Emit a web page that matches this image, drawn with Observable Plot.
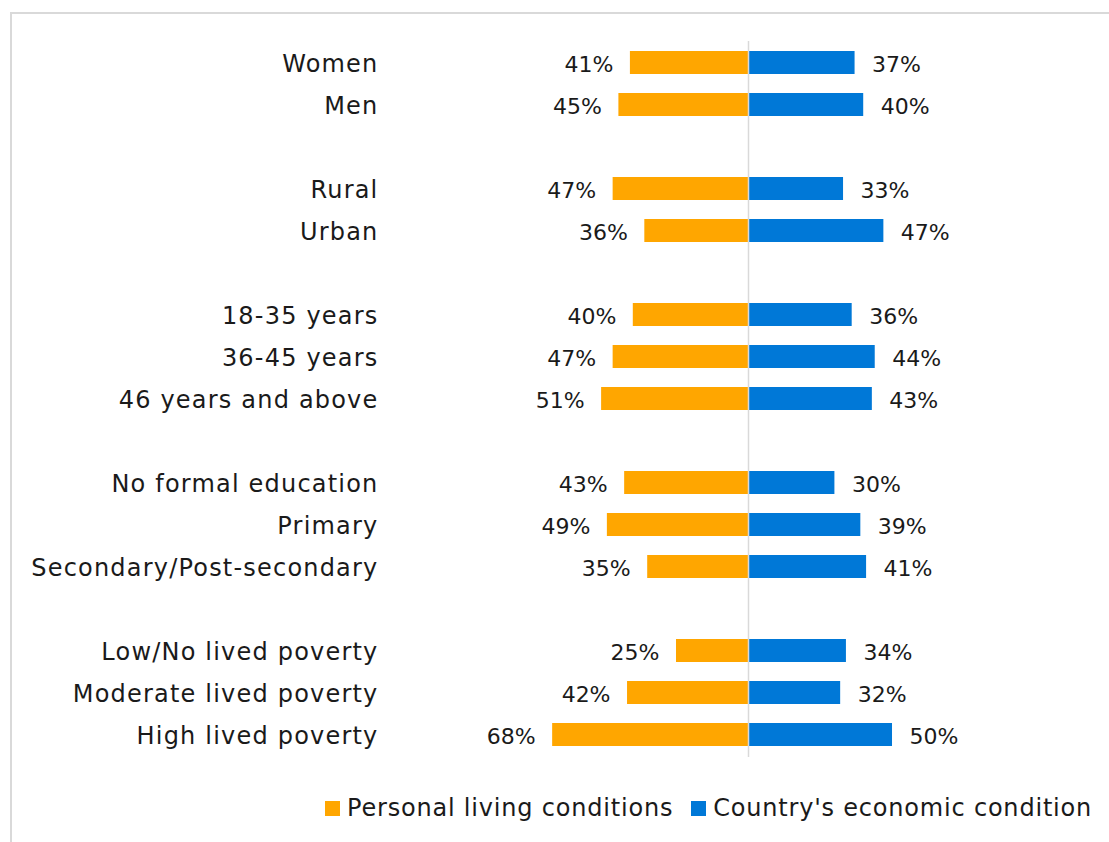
<!DOCTYPE html>
<html>
<head>
<meta charset="utf-8">
<script src="https://cdn.jsdelivr.net/npm/d3@7"></script>
<script src="https://cdn.jsdelivr.net/npm/@observablehq/plot@0.6"></script>
<style>
  html, body { margin: 0; padding: 0; background: #fff; }
  body { width: 1109px; height: 842px; overflow: hidden; position: relative; font-family: "DejaVu Sans", sans-serif; }
  #frame { position: absolute; left: 10px; top: 12px; width: 1120px; height: 860px; border-left: 2px solid #d9d9d9; border-top: 2px solid #d9d9d9; }
  #chart { position: absolute; left: 0; top: 0; }
  #legend { position: absolute; left: 325px; top: 794px; display: flex; align-items: center; font-size: 24px; color: #1a1a1a; white-space: nowrap; letter-spacing: 0.8px; }
  .sw { display: inline-block; width: 15px; height: 15px; margin-right: 7px; }
  .item { display: flex; align-items: center; margin-right: 18px; }
</style>
</head>
<body>
<div id="frame"></div>
<div id="chart"></div>
<div id="legend"></div>
<script>
const categories = ["Women", "Men", "Rural", "Urban", "18-35 years", "36-45 years", "46 years and above",
  "No formal education", "Primary", "Secondary/Post-secondary",
  "Low/No lived poverty", "Moderate lived poverty", "High lived poverty"];
const groups = ["Gender", "Gender", "Location", "Location", "Age", "Age", "Age",
  "Education", "Education", "Education", "Poverty", "Poverty", "Poverty"];
const personal = [41, 45, 47, 36, 40, 47, 51, 43, 49, 35, 25, 42, 68];
const country = [37, 40, 33, 47, 36, 44, 43, 30, 39, 41, 34, 32, 50];
const seriesNames = ["Personal living conditions", "Country's economic condition"];
const seriesColors = ["#FFA600", "#0078D7"];

// y domain with spacer rows between groups
const domain = [];
categories.forEach((c, i) => {
  if (i > 0 && groups[i] !== groups[i - 1]) domain.push("__gap" + i);
  domain.push(c);
});

const rows = [];
categories.forEach((c, i) => {
  rows.push({category: c, series: seriesNames[0], value: -personal[i], label: personal[i] + "%"});
  rows.push({category: c, series: seriesNames[1], value: country[i], label: country[i] + "%"});
});
const left = rows.filter(d => d.series === seriesNames[0]);
const right = rows.filter(d => d.series === seriesNames[1]);

const chart = Plot.plot({
  width: 1109,
  height: 780,
  marginLeft: 390,
  marginRight: 3,
  marginTop: 41,
  marginBottom: 23,
  style: {fontFamily: "DejaVu Sans, sans-serif", fontSize: "22px", color: "#1a1a1a", background: "transparent"},
  x: {domain: [-124.3, 124.3], axis: null},
  y: {domain, paddingInner: 0.45, paddingOuter: 0.225, label: null},
  color: {domain: seriesNames, range: seriesColors},
  marks: [
    Plot.axisY({tickSize: 0, tickPadding: 12, fontSize: 24, dy: 1.5, label: null,
      tickFormat: d => d.startsWith("__gap") ? "" : d}),
    Plot.barX(rows, {x: "value", y: "category", fill: "series"}),
    Plot.ruleX([0], {stroke: "#d9d9d9", strokeWidth: 1.5}),
    Plot.text(left, {x: "value", y: "category", text: "label", textAnchor: "end", dx: -17, dy: 1.5, fontSize: 22, fill: "#1a1a1a"}),
    Plot.text(right, {x: "value", y: "category", text: "label", textAnchor: "start", dx: 17, dy: 1.5, fontSize: 22, fill: "#1a1a1a"})
  ]
});
chart.querySelectorAll('g[aria-label="y-axis tick label"] text').forEach(t => t.style.letterSpacing = "1.2px");
document.getElementById("chart").appendChild(chart);

const legend = document.getElementById("legend");
seriesNames.forEach((s, i) => {
  const item = document.createElement("div");
  item.className = "item";
  const sw = document.createElement("span");
  sw.className = "sw";
  sw.style.background = seriesColors[i];
  const tx = document.createElement("span");
  tx.textContent = s;
  item.appendChild(sw);
  item.appendChild(tx);
  legend.appendChild(item);
});
</script>
</body>
</html>
